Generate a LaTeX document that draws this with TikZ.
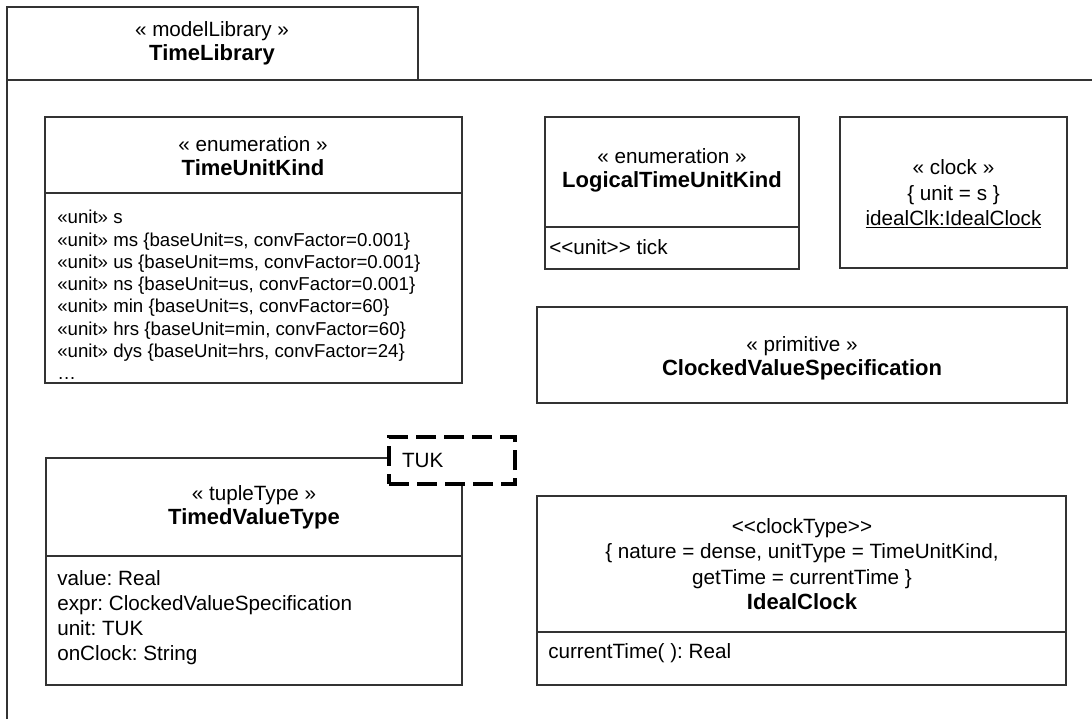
\documentclass[tikz,border=0pt]{standalone}
\usepackage{fontspec}
\setmainfont{Liberation Sans}
\usetikzlibrary{positioning}
\frenchspacing

\newcommand{\umltitle}[1]{{\fontsize{16.5}{18}\selectfont\bfseries #1}}

\begin{document}
\begin{tikzpicture}[
      x=0.75pt, y=-0.75pt,
      frameline/.style={line width=1.1pt, draw=black!80},
      boxline/.style={line width=1.2pt, draw=black!80},
      head/.style={align=center, inner sep=0pt, font=\fontsize{15.5}{18}\selectfont},
      lits/.style={align=left, anchor=west, inner sep=0pt, font=\fontsize{14}{16.7}\selectfont},
      attrs/.style={align=left, anchor=west, inner sep=0pt, font=\fontsize{15.5}{18.8}\selectfont},
      tparam/.style={draw, line width=3pt, dash pattern=on 15pt off 6pt, fill=white, anchor=north west,
        minimum width=94.5pt, minimum height=35.25pt, inner xsep=9.75pt, text width=75pt, align=left,
        font=\fontsize{15.5}{18}\selectfont}
  ]
    \useasboundingbox (0,0) rectangle (1092,719);

    % package frame with its tab
    \draw[frameline] (7,719) -- (7,7) -- (418,7) -- (418,80);
    \draw[frameline] (7,80) -- (1092,80);
    \node[head] (libTitle) at (212,43.5) {« modelLibrary »\\\umltitle{TimeLibrary}};

    % TimeUnitKind
    \draw[boxline] (45,117) rectangle (462,383);
    \draw[boxline] (45,193) -- (462,193);
    \node[head] (unitKindHead) at (253,156.5) {« enumeration »\\\umltitle{TimeUnitKind}};
    \node[lits] (unitKindLits) at (57,295) {«unit» s\\
      «unit» ms \{baseUnit=s, convFactor=0.001\}\\
      «unit» us \{baseUnit=ms, convFactor=0.001\}\\
      «unit» ns \{baseUnit=us, convFactor=0.001\}\\
      «unit» min \{baseUnit=s, convFactor=60\}\\
      «unit» hrs \{baseUnit=min, convFactor=60\}\\
      «unit» dys \{baseUnit=hrs, convFactor=24\}\\
      …};

    % LogicalTimeUnitKind
    \draw[boxline] (545,117) rectangle (799,269);
    \draw[boxline] (545,227) -- (799,227);
    \node[head] (logicalHead) at (672,170) {« enumeration »\\\umltitle{LogicalTimeUnitKind}};
    \node[attrs] (logicalLits) at (549,247) {<{}<unit>{}> tick};

    % clock instance
    \draw[boxline] (840,117) rectangle (1067,268);
    \node[head, font=\fontsize{15.5}{19}\selectfont] (clockInst) at (953.5,194)
      {« clock »\\\{ unit = s \}\\\underline{idealClk:IdealClock}};

    % ClockedValueSpecification
    \draw[boxline] (537,307) rectangle (1067,403);
    \node[head] (cvsHead) at (802,358.5) {« primitive »\\\umltitle{ClockedValueSpecification}};

    % TimedValueType with its template parameter
    \coordinate (tvtNW) at (46,458);
    \coordinate (tvtSE) at (462,685);
    \node[tparam] (tukParam) at (387,435) {TUK};
    \draw[boxline] (tukParam.west |- tvtNW) -- (tvtNW) -- (tvtNW |- tvtSE) -- (tvtSE) -- (tvtSE |- tukParam.south);
    \draw[boxline] (46,556) -- (462,556);
    \node[head] (tvtHead) at (254,507.5) {« tupleType »\\\umltitle{TimedValueType}};
    \node[attrs] (tvtAttrs) at (57,617.5) {value: Real\\expr: ClockedValueSpecification\\unit: TUK\\onClock: String};

    % IdealClock
    \draw[boxline] (537,496) rectangle (1066,685);
    \draw[boxline] (537,632) -- (1066,632);
    \node[head, font=\fontsize{15.5}{19}\selectfont] (idealHead) at (802,564)
      {<{}<clockType>{}>\\\{ nature = dense, unitType = TimeUnitKind,\\getTime = currentTime \}\\\umltitle{IdealClock}};
    \node[attrs] (idealOps) at (548,653) {currentTime( ): Real};
  \end{tikzpicture}
\end{document}
